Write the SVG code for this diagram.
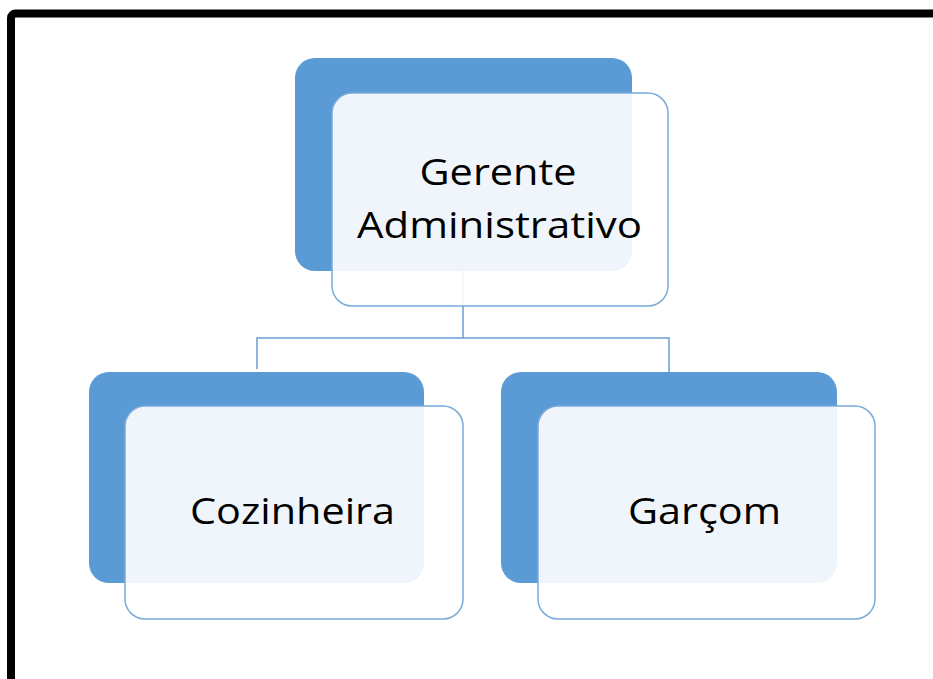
<svg xmlns="http://www.w3.org/2000/svg" width="933" height="679" viewBox="0 0 933 679">
<style>
.back{fill:#5B9BD5}
.front{fill:#FFFFFF;fill-opacity:0.9;stroke:#7AAADC;stroke-width:1.5}
.conn{fill:none;stroke:#6C9FD4;stroke-width:1.5}
.lbl{font-family:"Open Sans","Liberation Sans",sans-serif;font-size:37px;fill:#000;text-anchor:middle}
</style>
<rect width="933" height="679" fill="#fff"/>
<path d="M11,679 V18 a4.5,4.5 0 0 1 4.5,-4.5 H933" fill="none" stroke="#000" stroke-width="8"/>
<g id="connectors">
<path class="conn" d="M463,271 V338 M257,369 V338 H669 V372"/>
</g>
<g id="node-gerente">
<rect class="back" x="295" y="58" width="337" height="213" rx="20"/>
<rect class="front" x="332" y="93" width="336" height="213" rx="20"/>
<text class="lbl" x="498" y="185" textLength="157" lengthAdjust="spacingAndGlyphs">Gerente</text>
<text class="lbl" x="499.5" y="238" textLength="285" lengthAdjust="spacingAndGlyphs">Administrativo</text>
</g>
<g id="node-cozinheira">
<rect class="back" x="89" y="372" width="335" height="211" rx="20"/>
<rect class="front" x="125" y="406" width="338" height="213" rx="20"/>
<text class="lbl" x="292.5" y="524" textLength="205" lengthAdjust="spacingAndGlyphs">Cozinheira</text>
</g>
<g id="node-garcom">
<rect class="back" x="501" y="372" width="336" height="211" rx="20"/>
<rect class="front" x="538" y="406" width="337" height="213" rx="20"/>
<text class="lbl" x="704.5" y="524" textLength="153" lengthAdjust="spacingAndGlyphs">Garçom</text>
</g>
</svg>
